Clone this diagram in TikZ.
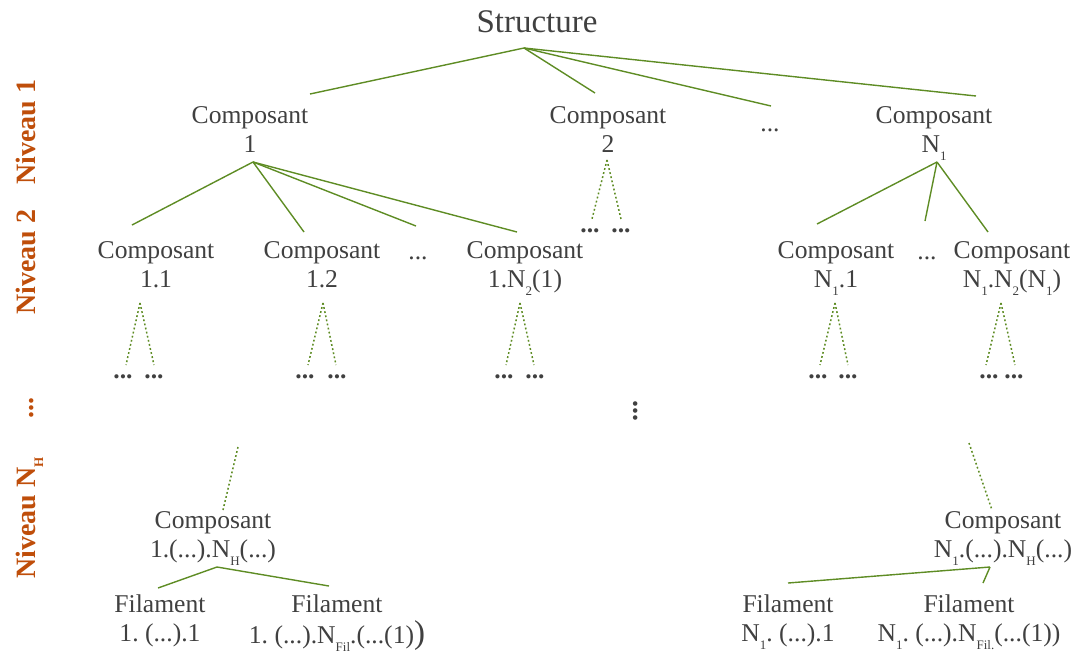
\documentclass[tikz,border=0pt]{standalone}
\usepackage{fontspec}
\setmainfont{Liberation Serif}
\frenchspacing
\definecolor{txt}{RGB}{64,64,64}
\definecolor{lvlc}{RGB}{191,78,10}
\definecolor{edgec}{RGB}{94,140,36}
\newcommand\sub[1]{\raisebox{-8pt}{\fontsize{13}{13}\selectfont #1}}
\newcommand\two[2]{\begin{tabular}[t]{@{}c@{}}#1\\#2\end{tabular}}
\tikzset{
  lbl/.style={anchor=base, inner sep=0pt, text=txt, font=\fontsize{25.6}{29}\selectfont},
  lvlab/.style={anchor=base, rotate=90, inner sep=0pt, text=lvlc, font=\fontsize{28}{30}\selectfont\bfseries},
  link/.style={draw=edgec, line width=1.4pt},
  dlink/.style={draw=edgec, line width=1.5pt, dash pattern=on 1.8pt off 2.4pt},
  bdots/.style={anchor=base, inner sep=0pt, text=txt, font=\fontsize{25.6}{29}\selectfont\bfseries}
}
\begin{document}
\begin{tikzpicture}[x=1pt,y=-1pt]
\useasboundingbox (0,0) rectangle (1075,657);
% level labels
\node[lvlab] (lv1) at (35,132) {Niveau 1};
\node[lvlab] (lv2) at (35,262) {Niveau 2};
\node[lvlab] (lvd) at (33,408) {...};
\node[lvlab] (lvH) at (35,518) {Niveau N\sub{H}};
% root
\node[lbl, font=\fontsize{33}{36}\selectfont] (S) at (537,32) {Structure};
\coordinate (Sa) at (524,48);
% level 1
\node[lbl] (C1) at (250,123) {\two{Composant}{1}};
\node[lbl] (C2) at (608,123) {\two{Composant}{2}};
\node[lbl] (L1d) at (770,131) {...};
\node[lbl] (CN) at (934,123) {\two{Composant}{N\sub{1}}};
\coordinate (e1) at (310,94);
\coordinate (e2) at (595,93);
\coordinate (e3) at (771,106);
\coordinate (e4) at (976,96);
\foreach \e in {e1,e2,e3,e4} \draw[link] (Sa) -- (\e);
% level 2
\coordinate (C1a) at (253,162);
\node[lbl] (C11) at (156,258) {\two{Composant}{1.1}};
\node[lbl] (C12) at (322,258) {\two{Composant}{1.2}};
\node[lbl] (L2d1) at (418,259) {...};
\node[lbl] (C1N) at (525,258) {\two{Composant}{1.N\sub{2}(1)}};
\coordinate (f1) at (132,225);
\coordinate (f2) at (304,232);
\coordinate (f3) at (416,226);
\coordinate (f4) at (517,232);
\foreach \e in {f1,f2,f3,f4} \draw[link] (C1a) -- (\e);
\coordinate (C2a) at (607,160);
\coordinate (g1) at (592,219);
\coordinate (g2) at (621,219);
\draw[dlink] (C2a) -- (g1);
\draw[dlink] (C2a) -- (g2);
\node[bdots] (gd1) at (590,232) {...};
\node[bdots] (gd2) at (621,232) {...};
\coordinate (CNa) at (937,162);
\node[lbl] (CN1) at (836,258) {\two{Composant}{N\sub{1}.1}};
\node[lbl] (L2d2) at (927,259) {...};
\node[lbl] (CNN) at (1012,258) {\two{Composant}{N\sub{1}.N\sub{2}(N\sub{1})}};
\coordinate (h1) at (817,224);
\coordinate (h2) at (925,221);
\coordinate (h3) at (988,232);
\foreach \e in {h1,h2,h3} \draw[link] (CNa) -- (\e);
% dotted triangles under level 2
\foreach \n/\ax/\lx/\rx/\dl/\dr in {t1/140/126/154/123/154, t2/323/308/336/305/337, t3/520/506/534/504/535, t4/835/820/848/818/848, t5/1001/986/1015/989/1014}{
  \coordinate (\n a) at (\ax,303);
  \coordinate (\n l) at (\lx,365);
  \coordinate (\n r) at (\rx,365);
  \draw[dlink] (\n a) -- (\n l);
  \draw[dlink] (\n a) -- (\n r);
  \node[bdots] (\n dl) at (\dl,378) {...};
  \node[bdots] (\n dr) at (\dr,378) {...};
}
\node[bdots, rotate=90, font=\fontsize{28}{30}\selectfont\bfseries] (vd) at (637,411) {...};
% level NH left
\coordinate (ul) at (238,447);
\coordinate (ll) at (223,510);
\draw[dlink] (ul) -- (ll);
\node[lbl] (CH1) at (213,528) {\two{Composant}{1.(...).N\sub{H}(...)}};
\coordinate (CH1a) at (217,567);
\coordinate (k1) at (158,588);
\coordinate (k2) at (329,586);
\draw[link] (CH1a) -- (k1);
\draw[link] (CH1a) -- (k2);
\node[lbl] (F1) at (160,612) {\two{Filament}{1. (...).1}};
\node[lbl] (F2) at (337,612) {\two{Filament}{1. (...).N\sub{Fil}.(...(1){\fontsize{33}{33}\selectfont)}}};
% level NH right
\coordinate (ur) at (969,443);
\coordinate (lr) at (992,510);
\draw[dlink] (ur) -- (lr);
\node[lbl] (CH2) at (1003,528) {\two{Composant}{N\sub{1}.(...).N\sub{H}(...)}};
\coordinate (CH2a) at (990,567);
\coordinate (m1) at (788,583);
\coordinate (m2) at (983,583);
\draw[link] (CH2a) -- (m1);
\draw[link] (CH2a) -- (m2);
\node[lbl] (F3) at (788,612) {\two{Filament}{N\sub{1}. (...).1}};
\node[lbl] (F4) at (969,612) {\two{Filament}{N\sub{1}. (...).N\sub{Fil.}(...(1))}};
\end{tikzpicture}
\end{document}
